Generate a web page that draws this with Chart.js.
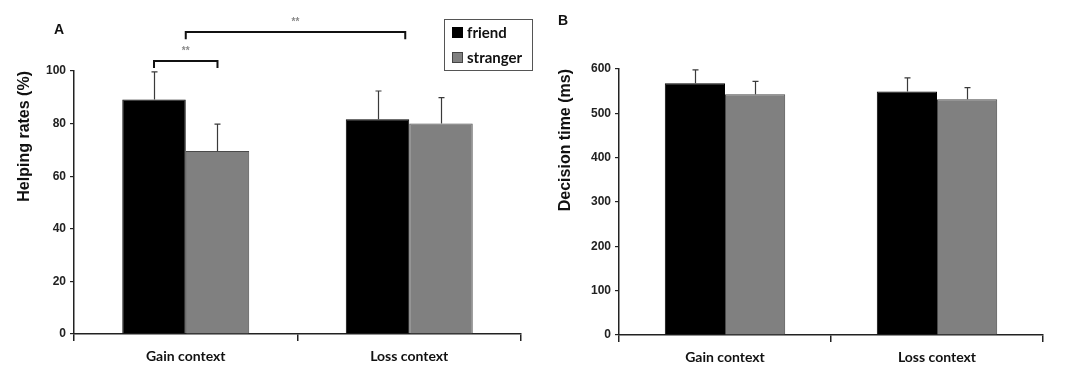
<!DOCTYPE html>
<html>
<head>
<meta charset="utf-8">
<script src="https://cdn.jsdelivr.net/npm/chart.js@4.4.1/dist/chart.umd.min.js"></script>
<style>
  html, body { margin: 0; padding: 0; background: #fff; }
  #wrap { position: relative; width: 1080px; height: 375px; overflow: hidden; }
  canvas { position: absolute; top: 0; }
  #cA { left: 0; }
  #cB { left: 540px; }
</style>
</head>
<body>
<div id="wrap">
  <canvas id="cA" width="540" height="375"></canvas>
  <canvas id="cB" width="540" height="375"></canvas>
</div>
<script>
// ---- data ----
const categories = ['Gain context', 'Loss context'];
const seriesNames = ['friend', 'stranger'];

const helpFriend = [89.2, 81.7];
const helpFriendErr = [10.5, 10.7];
const helpStranger = [69.6, 80.0];
const helpStrangerErr = [10.2, 9.9];
const helpTicks = [0, 20, 40, 60, 80, 100];

const timeFriend = [568, 549];
const timeFriendErr = [30, 31];
const timeStranger = [543, 532];
const timeStrangerErr = [29, 26];
const timeTicks = [0, 100, 200, 300, 400, 500, 600];

// significance brackets for panel A
const bracketSmall = { from: [0, 0], to: [0, 1], y: 103.8, drop: 2.7, label: '**' };
const bracketLarge = { fromCat: 0, toCat: 1, y: 114.8, drop: 2.7, label: '**' };

const FRIEND_COLOR = '#000000';
const STRANGER_COLOR = '#808080';

const errorBarPlugin = {
  id: 'errorBars',
  afterDatasetsDraw(chart) {
    const ctx = chart.ctx;
    const y = chart.scales.y;
    ctx.save();
    ctx.strokeStyle = '#3a3a3a';
    ctx.lineWidth = 1.2;
    chart.data.datasets.forEach((ds, di) => {
      const meta = chart.getDatasetMeta(di);
      meta.data.forEach((bar, i) => {
        const v = ds.data[i];
        const e = ds.errors[i];
        const x = Math.round(bar.x) + 0.5;
        const y0 = y.getPixelForValue(v);
        const y1 = y.getPixelForValue(v + e);
        ctx.beginPath();
        ctx.moveTo(x, y0);
        ctx.lineTo(x, y1);
        ctx.moveTo(x - 3, y1);
        ctx.lineTo(x + 3, y1);
        ctx.stroke();
      });
    });
    ctx.restore();
  }
};

function labelPlugin(letter, lx, ly) {
  return {
    id: 'panelLabel' + letter,
    afterDraw(chart) {
      const ctx = chart.ctx;
      ctx.save();
      ctx.fillStyle = '#111';
      ctx.font = 'bold 14px "Liberation Sans", Arial, sans-serif';
      ctx.textAlign = 'center';
      ctx.textBaseline = 'middle';
      ctx.fillText(letter, lx, ly);
      ctx.restore();
    }
  };
}

const bracketPlugin = {
  id: 'brackets',
  afterDraw(chart) {
    const ctx = chart.ctx;
    const ys = chart.scales.y, xs = chart.scales.x;
    ctx.save();
    ctx.strokeStyle = '#111';
    ctx.lineWidth = 2;
    ctx.fillStyle = '#8a8a8a';
    ctx.font = 'bold 10px "Liberation Sans", Arial, sans-serif';
    ctx.textAlign = 'center';
    ctx.textBaseline = 'middle';
    const draw = (x1, x2, yv, drop, label) => {
      const yp = ys.getPixelForValue(yv);
      const yd = ys.getPixelForValue(yv - drop);
      ctx.beginPath();
      ctx.moveTo(x1, yd);
      ctx.lineTo(x1, yp);
      ctx.lineTo(x2, yp);
      ctx.lineTo(x2, yd);
      ctx.stroke();
      ctx.fillText(label, (x1 + x2) / 2, yp - 10);
    };
    const m0 = chart.getDatasetMeta(bracketSmall.from[1]).data[bracketSmall.from[0]];
    const m1 = chart.getDatasetMeta(bracketSmall.to[1]).data[bracketSmall.to[0]];
    draw(m0.x, m1.x, bracketSmall.y, bracketSmall.drop, bracketSmall.label);
    draw(xs.getPixelForValue(bracketLarge.fromCat), xs.getPixelForValue(bracketLarge.toCat) - 4,
         bracketLarge.y, bracketLarge.drop, bracketLarge.label);
    ctx.restore();
  }
};

const legendPlugin = {
  id: 'boxLegend',
  afterDraw(chart) {
    const ctx = chart.ctx;
    ctx.save();
    ctx.strokeStyle = '#555';
    ctx.lineWidth = 1;
    ctx.strokeRect(444.5, 19.5, 88, 51);
    const items = [
      { name: seriesNames[0], fill: FRIEND_COLOR, stroke: '#000', y: 32 },
      { name: seriesNames[1], fill: STRANGER_COLOR, stroke: '#444', y: 57 }
    ];
    ctx.font = 'bold 15px Lato, "Open Sans", sans-serif';
    ctx.textBaseline = 'middle';
    ctx.textAlign = 'left';
    items.forEach(it => {
      ctx.fillStyle = it.fill;
      ctx.fillRect(452, it.y - 5, 11, 11);
      ctx.strokeStyle = it.stroke;
      ctx.strokeRect(452.5, it.y - 4.5, 10, 10);
      ctx.fillStyle = '#111';
      ctx.fillText(it.name, 467, it.y + 1);
    });
    ctx.restore();
  }
};

function makeChart(id, friend, friendErr, stranger, strangerErr, ticks, title, cfg, plugins) {
  return new Chart(document.getElementById(id), {
    type: 'bar',
    data: {
      labels: categories,
      datasets: [
        { label: seriesNames[0], data: friend, errors: friendErr, backgroundColor: FRIEND_COLOR,
          borderColor: '#000', borderWidth: 1 },
        { label: seriesNames[1], data: stranger, errors: strangerErr, backgroundColor: STRANGER_COLOR,
          borderColor: '#4a4a4a', borderWidth: 1 }
      ]
    },
    options: {
      responsive: false,
      animation: false,
      devicePixelRatio: 1,
      layout: { padding: { left: 0, right: cfg.right, top: cfg.top, bottom: 0 } },
      datasets: { bar: { categoryPercentage: 0.568, barPercentage: 1.0 } },
      plugins: { legend: { display: false }, tooltip: { enabled: false } },
      scales: {
        x: {
          grid: { display: true, drawOnChartArea: false, drawTicks: true, tickLength: 7, color: '#222', lineWidth: 1.5, offset: true },
          border: { display: true, color: '#222', width: 1.5 },
          ticks: { color: '#111', padding: 7, font: { family: 'Lato, "Open Sans", sans-serif', size: 14, weight: 'bold' } },
          afterFit(s) { s.height = cfg.xh; }
        },
        y: {
          min: ticks[0], max: ticks[ticks.length - 1],
          afterBuildTicks(s) { s.ticks = ticks.map(v => ({ value: v })); },
          grid: { display: true, drawOnChartArea: false, drawTicks: true, tickLength: 4, color: '#222', lineWidth: 1.2 },
          border: { display: true, color: '#222', width: 1.5 },
          ticks: { color: '#222', padding: 4, font: { family: '"Liberation Sans", Arial, sans-serif', size: 12, weight: 'bold' } },
          title: { display: true, text: title, align: 'end', color: '#111',
                   padding: { top: cfg.tpad, bottom: 0 },
                   font: { family: '"Liberation Sans", Arial, sans-serif', size: 16, weight: 'bold' } },
          afterFit(s) { s.width = cfg.yw; }
        }
      }
    },
    plugins: plugins
  });
}

makeChart('cA', helpFriend, helpFriendErr, helpStranger, helpStrangerErr, helpTicks, 'Helping rates (%)',
  { right: 19, top: 71, xh: 41, yw: 74, tpad: 15 },
  [errorBarPlugin, bracketPlugin, legendPlugin, labelPlugin('A', 59, 30)]);

makeChart('cB', timeFriend, timeFriendErr, timeStranger, timeStrangerErr, timeTicks, 'Decision time (ms)',
  { right: 37, top: 69, xh: 40, yw: 79, tpad: 16 },
  [errorBarPlugin, labelPlugin('B', 23, 21)]);
</script>
</body>
</html>
